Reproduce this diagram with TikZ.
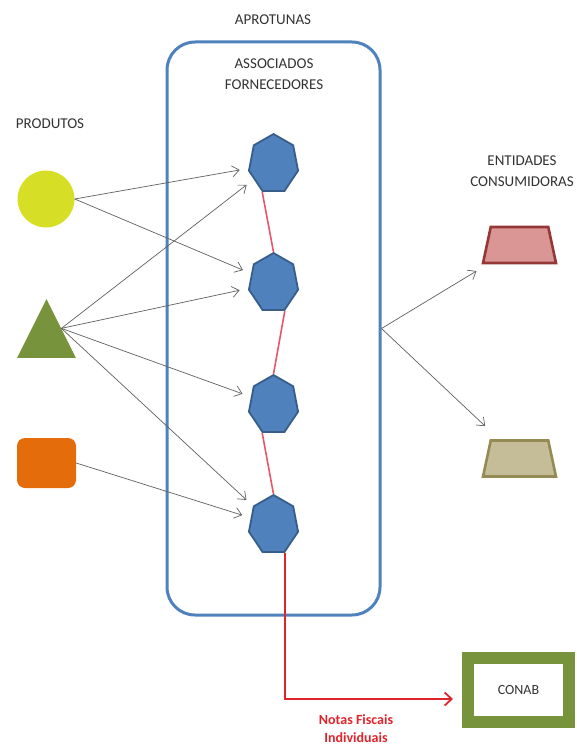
\documentclass[tikz,border=0pt]{standalone}
\usepackage{fontspec}
\setmainfont{Carlito}
\usepackage{xcolor}
\usetikzlibrary{shapes.geometric}
\usetikzlibrary{arrows.meta}
\usetikzlibrary{positioning}

\definecolor{boxblue}{RGB}{79,129,189}
\definecolor{heptline}{RGB}{56,93,138}
\definecolor{arrowgray}{RGB}{95,95,95}
\definecolor{linkred}{RGB}{232,86,108}
\definecolor{notasred}{RGB}{224,36,44}
\definecolor{limefill}{RGB}{214,223,38}
\definecolor{olivefill}{RGB}{119,147,60}
\definecolor{orangefill}{RGB}{228,108,10}
\definecolor{pinkfill}{RGB}{217,150,148}
\definecolor{pinkline}{RGB}{149,55,53}
\definecolor{tanfill}{RGB}{196,189,151}
\definecolor{tanline}{RGB}{148,138,84}

\begin{document}
\begin{tikzpicture}[
  x=1pt, y=-1pt,
  every node/.style={font=\fontsize{15}{21}\selectfont, align=center, text=black!80},
  hept/.style={regular polygon, regular polygon sides=7, minimum size=60pt,
    inner sep=0pt, fill=boxblue, draw=heptline, line width=1.8pt},
  trap/.style={trapezium, trapezium left angle=75, trapezium right angle=75,
    trapezium stretches=true, minimum width=73pt, minimum height=36pt,
    inner xsep=10pt, inner ysep=5pt, line width=2.6pt},
  feed/.style={draw=arrowgray, line width=0.7pt,
    -{Straight Barb[length=7pt,width=11pt]}, shorten >=9pt},
  link/.style={draw=linkred, line width=1.6pt},
  notas/.style={draw=notasred, line width=1.4pt,
    -{Straight Barb[length=7pt,width=13pt,line width=1.8pt]}}
]
\useasboundingbox (0,0) rectangle (577,749);

% titles
\node (aprot) at (273,20) {APROTUNAS};
\node (prod) at (50,124) {PRODUTOS};
\node (entid) at (522,171) {ENTIDADES\\CONSUMIDORAS};

% associados
\node[draw=boxblue, line width=3pt, rounded corners=28pt,
  minimum width=213pt, minimum height=573pt] (assoc) at (273.5,328.5) {};
\node (assoctxt) at (274,74) {ASSOCIADOS\\FORNECEDORES};

\foreach \i/\hy in {1/164, 2/283, 3/405, 4/525}{
  \begin{scope}[shift={(273.5,\hy)}, xscale=0.84]
    \node[hept, transform shape] (h\i) at (0,0) {};
  \end{scope}
}

% produtos
\node[circle, fill=limefill, minimum size=57pt, inner sep=0pt] (circ) at (46,199) {};
\begin{scope}[shift={(46.5,338.3)}, yscale=1.155]
  \node[regular polygon, regular polygon sides=3, minimum size=68pt, inner sep=0pt,
    fill=olivefill, transform shape] (tri) at (0,0) {};
\end{scope}
\node[rectangle, rounded corners=8pt, fill=orangefill, minimum width=59pt,
  minimum height=50pt, inner sep=0pt] (sq) at (46.5,463) {};

% entidades
\node[trap, fill=pinkfill, draw=pinkline] (ent1) at (519.5,245) {};
\node[trap, fill=tanfill, draw=tanline] (ent2) at (519.5,458.5) {};

% conab
\node[draw=olivefill, line width=12pt, minimum width=101pt, minimum height=64pt,
  font=\fontsize{14}{16}\selectfont] (conab) at (518.5,690) {CONAB};

% produtos -> associados
\draw[feed] (circ.east) -- (h1);
\draw[feed] (circ.east) -- (h2);
\foreach \j in {1,...,4}
  \draw[feed] (tri.side 3) -- (h\j);
\draw[feed] (sq.east) -- (h4);

% associados -> entidades
\draw[feed, shorten >=13pt] (assoc.east) -- (ent1);
\draw[feed, shorten >=19pt] (assoc.east) -- (ent2);

% ligacoes entre associados
\draw[link] (h1.corner 4) -- (h2.corner 1);
\draw[link] (h2.corner 5) -- (h3.corner 1);
\draw[link] (h3.corner 4) -- (h4.corner 1);

% notas fiscais
\draw[notas, shorten >=9pt] (h4.corner 5) |- ([yshift=-9pt]conab.west);
\node[text=notasred, font=\bfseries\fontsize{14}{18}\selectfont] (nf) at (356,729)
  {Notas Fiscais\\Individuais};
\end{tikzpicture}
\end{document}
